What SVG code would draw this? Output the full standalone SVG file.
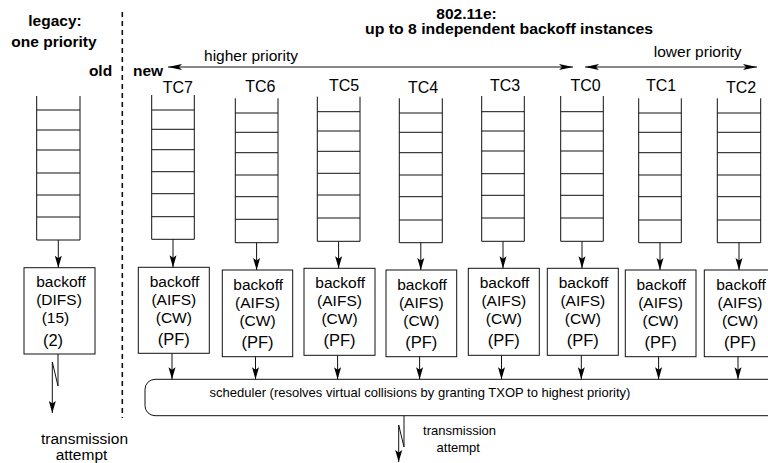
<svg xmlns="http://www.w3.org/2000/svg" width="768" height="463" viewBox="0 0 768 463">
<style>
text{font-family:"Liberation Sans",Arial,sans-serif;fill:#000}
.b{font-weight:bold;font-size:15.5px}
.t{font-size:15.5px;text-anchor:middle}
.p{font-size:16.5px;text-anchor:middle}
.tc{font-size:16px;text-anchor:middle}
.s{font-size:13px;text-anchor:middle}
.q,.bx,.c{fill:none;stroke:#111;stroke-width:1}
.bx{fill:#fff}
.c{marker-end:url(#ah)}
.d{fill:none;stroke:#111;stroke-width:1.6;stroke-dasharray:5,4}
</style>
<defs>
<marker id="ah" markerUnits="userSpaceOnUse" markerWidth="12" markerHeight="8" refX="12" refY="4" orient="auto-start-reverse">
<path d="M0,0.5 L12,4 L0,7.5 L2.5,4 z" fill="#000"/>
</marker>
<marker id="ap" markerUnits="userSpaceOnUse" markerWidth="14" markerHeight="8" refX="14" refY="4" orient="auto-start-reverse">
<path d="M0,1 L14,4 L0,7 L3,4 z" fill="#000"/>
</marker>
</defs>

<g id="labels">
<text class="b" x="55" y="25.5" text-anchor="middle">legacy:</text>
<text class="b" x="54" y="47" text-anchor="middle">one priority</text>
<text class="b" x="466.5" y="19" text-anchor="middle" font-size="15.5">802.11e:</text>
<text class="b" x="509" y="34.3" text-anchor="middle" textLength="288" lengthAdjust="spacingAndGlyphs">up to 8 independent backoff instances</text>
<text class="b" x="100.5" y="75.7" text-anchor="middle" font-size="16.5">old</text>
<text class="b" x="148" y="75.7" text-anchor="middle" font-size="16.5">new</text>
<text class="t" x="251" y="61">higher priority</text>
<text class="t" x="697.7" y="57">lower priority</text>
</g>

<g id="divider"><line class="d" x1="122.3" y1="12" x2="122.3" y2="418"/></g>

<g id="legacy-queue">
<path class="q" d="M36.7,96 V240 H80 V96 M36.7,110 H80 M36.7,130 H80 M36.7,150 H80 M36.7,173 H80 M36.7,195 H80 M36.7,217 H80"/>
</g>
<g id="legacy-backoff">
<rect class="bx" x="24" y="267.7" width="71" height="86.3"/>
<text class="t" x="61" y="286.7">backoff</text>
<text class="t" x="59" y="305">(DIFS)</text>
<text class="t" x="55.5" y="323">(15)</text>
<text class="p" x="53" y="346">(2)</text>
</g>
<g id="legacy-tx"><text class="t" x="84.5" y="444">transmission</text><text class="t" x="81.5" y="460">attempt</text></g>

<g id="tc7"><text class="tc" x="177.8" y="92.7">TC7</text>
<path class="q" d="M151.7,95 V239.3 H194.3 V95 M151.7,110 H194.3 M151.7,129.3 H194.3 M151.7,149.7 H194.3 M151.7,171.7 H194.3 M151.7,193.7 H194.3 M151.7,216.7 H194.3"/></g>
<g id="tc6"><text class="tc" x="260.3" y="91.7">TC6</text>
<path class="q" d="M235.3,98.3 V242.7 H278 V98.3 M235.3,113 H278 M235.3,132.3 H278 M235.3,152.7 H278 M235.3,175 H278 M235.3,196.7 H278 M235.3,219.3 H278"/></g>
<g id="tc5"><text class="tc" x="344" y="91">TC5</text>
<path class="q" d="M317.3,96.7 V241.3 H360 V96.7 M317.3,111.7 H360 M317.3,131 H360 M317.3,151.3 H360 M317.3,173.3 H360 M317.3,195 H360 M317.3,218 H360"/></g>
<g id="tc4"><text class="tc" x="423" y="93.3">TC4</text>
<path class="q" d="M399.3,98.3 V242.7 H442.3 V98.3 M399.3,113 H442.3 M399.3,132.3 H442.3 M399.3,152.7 H442.3 M399.3,175 H442.3 M399.3,196.7 H442.3 M399.3,220 H442.3"/></g>
<g id="tc3"><text class="tc" x="505" y="91">TC3</text>
<path class="q" d="M481.7,96 V241.3 H524.3 V96 M481.7,111.7 H524.3 M481.7,131 H524.3 M481.7,151 H524.3 M481.7,173.7 H524.3 M481.7,195.3 H524.3 M481.7,218 H524.3"/></g>
<g id="tc0"><text class="tc" x="585.5" y="91">TC0</text>
<path class="q" d="M560.7,96 V241.3 H603.3 V96 M560.7,111.7 H603.3 M560.7,131 H603.3 M560.7,151 H603.3 M560.7,173.7 H603.3 M560.7,195.3 H603.3 M560.7,218 H603.3"/></g>
<g id="tc1"><text class="tc" x="661" y="91">TC1</text>
<path class="q" d="M638.7,98.3 V242.7 H681.3 V98.3 M638.7,113 H681.3 M638.7,132.3 H681.3 M638.7,152.7 H681.3 M638.7,175 H681.3 M638.7,196.7 H681.3 M638.7,220 H681.3"/></g>
<g id="tc2"><text class="tc" x="741" y="92.7">TC2</text>
<path class="q" d="M717.3,98.3 V242.7 H760.7 V98.3 M717.3,113 H760.7 M717.3,132.3 H760.7 M717.3,152.7 H760.7 M717.3,175 H760.7 M717.3,196.7 H760.7 M717.3,220 H760.7"/></g>

<g id="bo7"><rect class="bx" x="138.3" y="267.3" width="71" height="86"/>
<text class="t" x="174.5" y="287.3">backoff</text><text class="t" x="173.8" y="304.8">(AIFS)</text><text class="t" x="173.8" y="322.8">(CW)</text><text class="p" x="173.8" y="344.8">(PF)</text></g>
<g id="bo6"><rect class="bx" x="222.3" y="270" width="70.4" height="86.7"/>
<text class="t" x="258.2" y="290">backoff</text><text class="t" x="257.5" y="307.5">(AIFS)</text><text class="t" x="257.5" y="325.5">(CW)</text><text class="p" x="257.5" y="347.5">(PF)</text></g>
<g id="bo5"><rect class="bx" x="304" y="268.3" width="71" height="87"/>
<text class="t" x="340.2" y="288.3">backoff</text><text class="t" x="339.5" y="305.8">(AIFS)</text><text class="t" x="339.5" y="323.8">(CW)</text><text class="p" x="339.5" y="345.8">(PF)</text></g>
<g id="bo4"><rect class="bx" x="386" y="270" width="70.7" height="86.7"/>
<text class="t" x="422" y="290">backoff</text><text class="t" x="421.3" y="307.5">(AIFS)</text><text class="t" x="421.3" y="325.5">(CW)</text><text class="p" x="421.3" y="347.5">(PF)</text></g>
<g id="bo3"><rect class="bx" x="468.3" y="268.3" width="71" height="87"/>
<text class="t" x="504.5" y="288.3">backoff</text><text class="t" x="503.8" y="305.8">(AIFS)</text><text class="t" x="503.8" y="323.8">(CW)</text><text class="p" x="503.8" y="345.8">(PF)</text></g>
<g id="bo0"><rect class="bx" x="547.3" y="268.3" width="71" height="87"/>
<text class="t" x="583.5" y="288.3">backoff</text><text class="t" x="582.8" y="305.8">(AIFS)</text><text class="t" x="582.8" y="323.8">(CW)</text><text class="p" x="582.8" y="345.8">(PF)</text></g>
<g id="bo1"><rect class="bx" x="625.3" y="270" width="70.7" height="86.7"/>
<text class="t" x="661.3" y="290">backoff</text><text class="t" x="660.6" y="307.5">(AIFS)</text><text class="t" x="660.6" y="325.5">(CW)</text><text class="p" x="660.6" y="347.5">(PF)</text></g>
<g id="bo2"><rect class="bx" x="704.3" y="270" width="71" height="86.7"/>
<text class="t" x="741" y="290">backoff</text><text class="t" x="740" y="307.5">(AIFS)</text><text class="t" x="740" y="325.5">(CW)</text><text class="p" x="740" y="347.5">(PF)</text></g>

<g id="scheduler"><rect class="bx" x="145" y="379.3" width="640" height="36.4" rx="10"/>
<text class="s" x="420" y="396.7">scheduler (resolves virtual collisions by granting TXOP to highest priority)</text></g>
<g id="tx"><text class="s" x="459.5" y="435">transmission</text><text class="s" x="458.3" y="452.3">attempt</text></g>

<g id="connectors">
<line x1="168" y1="67" x2="573" y2="67" stroke="#111" stroke-width="1" marker-start="url(#ap)" marker-end="url(#ap)"/>
<line x1="585" y1="67" x2="757" y2="67" stroke="#111" stroke-width="1" marker-start="url(#ap)" marker-end="url(#ap)"/>
<line class="c" x1="58.3" y1="240" x2="58.3" y2="267.7"/>
<path class="c" d="M58,354 V386 L52.3,362 V413"/>
<line class="c" x1="173" y1="239.3" x2="173" y2="267.3"/>
<line class="c" x1="256.6" y1="242.7" x2="256.6" y2="270"/>
<line class="c" x1="338.6" y1="241.3" x2="338.6" y2="268.3"/>
<line class="c" x1="420.8" y1="242.7" x2="420.8" y2="270"/>
<line class="c" x1="503" y1="241.3" x2="503" y2="268.3"/>
<line class="c" x1="582" y1="241.3" x2="582" y2="268.3"/>
<line class="c" x1="660" y1="242.7" x2="660" y2="270"/>
<line class="c" x1="739" y1="242.7" x2="739" y2="270"/>
<line class="c" x1="172" y1="353.3" x2="172" y2="379.3"/>
<line class="c" x1="255.5" y1="356.7" x2="255.5" y2="379.3"/>
<line class="c" x1="337.6" y1="355.3" x2="337.6" y2="379.3"/>
<line class="c" x1="419.6" y1="356.7" x2="419.6" y2="379.3"/>
<line class="c" x1="501.5" y1="355.3" x2="501.5" y2="379.3"/>
<line class="c" x1="581.3" y1="355.3" x2="581.3" y2="379.3"/>
<line class="c" x1="658.6" y1="356.7" x2="658.6" y2="379.3"/>
<line class="c" x1="738" y1="356.7" x2="738" y2="379.3"/>
<path class="c" d="M404,415.7 V447 L398.7,425 V462"/>
</g>
</svg>
